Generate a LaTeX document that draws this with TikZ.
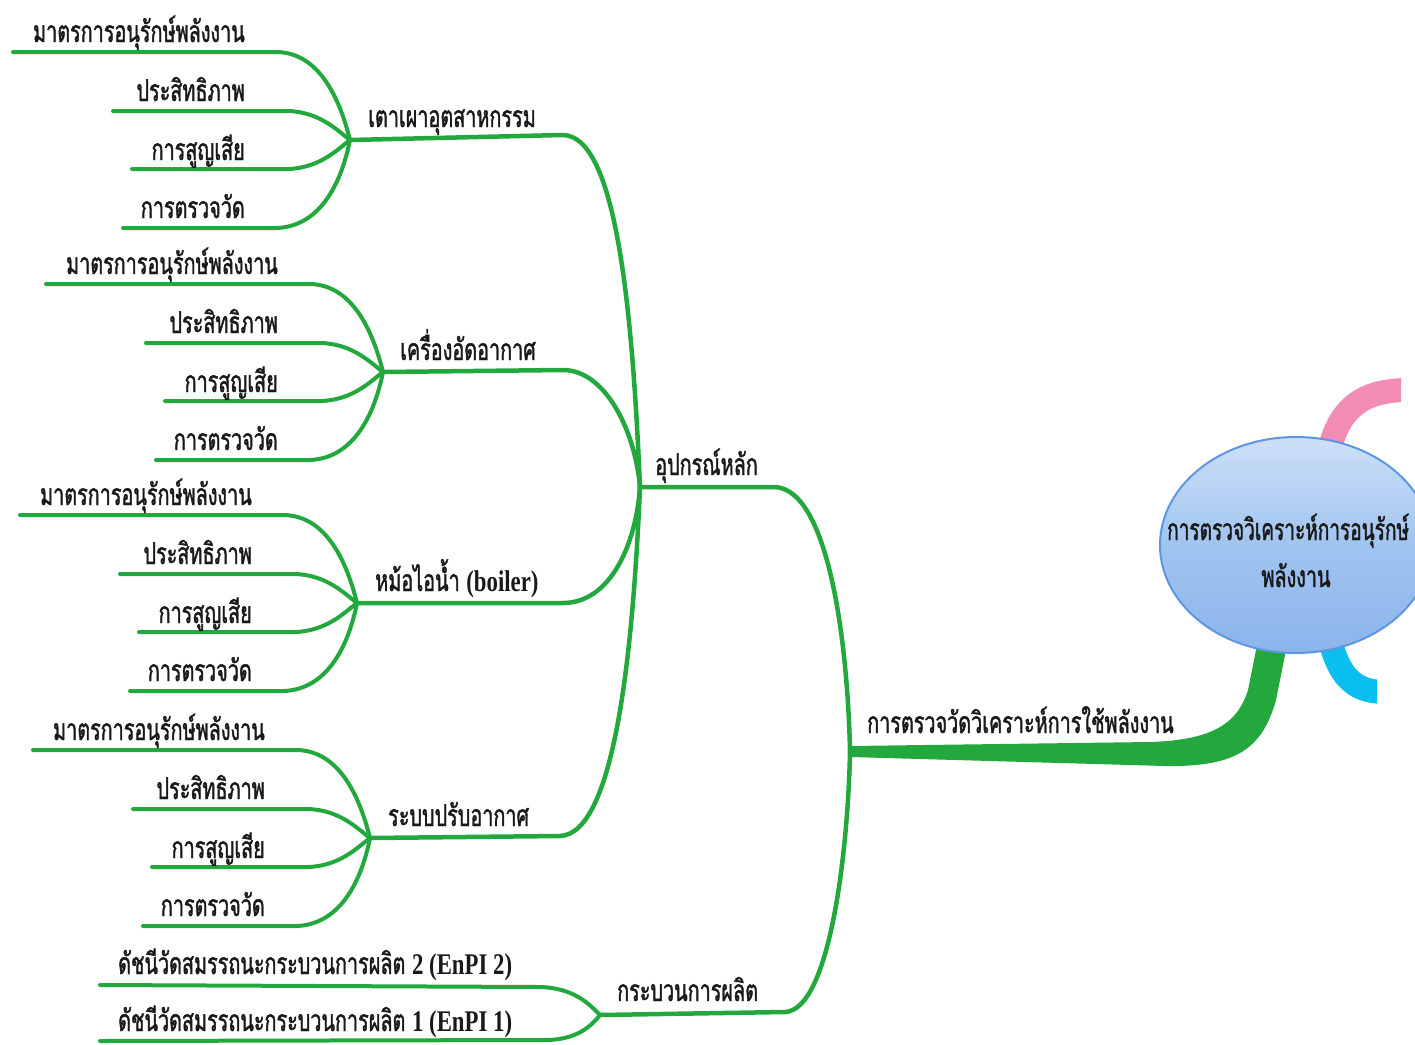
\documentclass[tikz,border=0pt]{standalone}
\usepackage{fontspec}
\usetikzlibrary{shapes.geometric,shadings}
\newfontfamily\thaifont[Script=Thai,FakeStretch=0.66,FakeBold=1.3]{Loma}
\newfontfamily\thainarrow[Script=Thai,FakeStretch=0.635,FakeBold=1.3]{Loma}
\newfontfamily\latfont[FakeStretch=0.76]{Liberation Serif}
\newcommand\lat[1]{{\latfont\bfseries #1}}
\definecolor{mmgreen}{RGB}{34,168,60}
\definecolor{mmpink}{RGB}{242,140,180}
\definecolor{mmcyan}{RGB}{10,190,240}
\definecolor{mmborder}{RGB}{95,150,225}
\definecolor{mmtext}{RGB}{25,25,25}
\definecolor{elltop}{RGB}{205,224,247}
\definecolor{ellmid}{RGB}{160,196,240}
\definecolor{ellbot}{RGB}{140,180,236}
\tikzset{
  leafline/.style={draw=mmgreen,line width=4pt,line cap=round},
  subline/.style={draw=mmgreen,line width=4.5pt,line cap=round},
  lbl/.style={inner sep=0pt,font=\thaifont\fontsize{30}{36}\selectfont,text=mmtext},
}
\begin{document}
\begin{tikzpicture}[x=1pt,y=-1pt]
\useasboundingbox (0,0) rectangle (1415,1044);
\clip (0,0) rectangle (1415,1044);
% ---------- central topic and its coloured branches ----------
\coordinate (mainhub) at (850,752);
\begin{scope}
  \clip (0,0) rectangle (1401,1044);
  \draw[draw=mmpink,line width=24pt] (1326,470) .. controls (1333,410) and (1360,391) .. (1405,390);
\end{scope}
\begin{scope}
  \clip (0,0) rectangle (1377,1044);
  \draw[draw=mmcyan,line width=24pt] (1326,620) .. controls (1335,675) and (1352,692) .. (1385,692);
\end{scope}
\fill[mmgreen] (850,746) -- (1150,742) .. controls (1215,740) and (1238,722) .. (1248,690)
   -- (1262,620) -- (1292,620) -- (1276,700) .. controls (1262,750) and (1235,767) .. (1165,766) -- (850,757) -- cycle;
\node[ellipse,minimum width=272pt,minimum height=216pt,draw=mmborder,line width=2pt,
      top color=elltop,bottom color=ellbot,middle color=ellmid] (root) at (1296,545) {};
\node[lbl,font=\thainarrow\fontsize{30}{36}\selectfont,anchor=base west] (roota) at (1167,540) {การตรวจวิเคราะห์การอนุรักษ์};
\node[lbl,anchor=base] (rootb) at (1296,587) {พลังงาน};
% ---------- main branch ----------
\node[lbl,anchor=base west] (mainlbl) at (867,733) {การตรวจวัดวิเคราะห์การใช้พลังงาน};
\coordinate (eqhub) at (640,487);
\coordinate (prhub) at (600,1015);
\draw[subline] (eqhub) -- (775,487) .. controls (830,490) and (848,650) .. (mainhub);
\draw[subline] (prhub) -- (785,1012) .. controls (830,1010) and (848,850) .. (mainhub);
\node[lbl,anchor=base west] (eqlbl) at (655,475) {อุปกรณ์หลัก};
\node[lbl,anchor=base west] (prlbl) at (617,1001) {กระบวนการผลิต};
% ---------- equipment groups ----------
\coordinate (h1) at (350,140);
\coordinate (h2) at (383,372);
\coordinate (h3) at (357,603);
\coordinate (h4) at (370,838);
\draw[subline] (h1) -- (563,135) .. controls (615,136) and (632,300) .. (eqhub);
\draw[subline] (h2) -- (563,370) .. controls (605,370) and (635,430) .. (eqhub);
\draw[subline] (h3) -- (563,603) .. controls (610,603) and (636,545) .. (eqhub);
\draw[subline] (h4) -- (560,836) .. controls (615,834) and (633,650) .. (eqhub);
\node[lbl,anchor=base west] (g1) at (368,127) {เตาเผาอุตสาหกรรม};
\node[lbl,anchor=base west] (g2) at (400,360) {เครื่องอัดอากาศ};
\node[lbl,anchor=base west] (g3) at (375,591) {หม้อไอน้ำ \lat{(boiler)}};
\node[lbl,anchor=base west] (g4) at (388,826) {ระบบปรับอากาศ};
\foreach \g/\hx/\hy in {1/350/140,2/383/372,3/357/603,4/370/838}{
  \draw[leafline] ({\hx-337},{\hy-88}) -- ({\hx-73},{\hy-88}) .. controls ({\hx-30},{\hy-87}) and ({\hx-10},{\hy-40}) .. (h\g);
  \draw[leafline] ({\hx-237},{\hy-29}) -- ({\hx-62},{\hy-29}) .. controls ({\hx-30},{\hy-28}) and ({\hx-12},{\hy-9}) .. (h\g);
  \draw[leafline] ({\hx-218},{\hy+29}) -- ({\hx-62},{\hy+29}) .. controls ({\hx-30},{\hy+28}) and ({\hx-12},{\hy+9}) .. (h\g);
  \draw[leafline] ({\hx-227},{\hy+88}) -- ({\hx-73},{\hy+88}) .. controls ({\hx-28},{\hy+86}) and ({\hx-8},{\hy+40}) .. (h\g);
  \node[lbl,anchor=base east] (t\g a) at ({\hx-105},{\hy-98}) {มาตรการอนุรักษ์พลังงาน};
  \node[lbl,anchor=base east] (t\g b) at ({\hx-105},{\hy-39}) {ประสิทธิภาพ};
  \node[lbl,anchor=base east] (t\g c) at ({\hx-105},{\hy+20}) {การสูญเสีย};
  \node[lbl,anchor=base east] (t\g d) at ({\hx-105},{\hy+78}) {การตรวจวัด};
}
% ---------- production process ----------
\draw[leafline] (100,985) -- (540,987) .. controls (575,988) and (590,1005) .. (prhub);
\draw[leafline] (100,1041) -- (545,1040) .. controls (578,1040) and (592,1025) .. (prhub);
\node[lbl,anchor=base west] (p2) at (118,974) {ดัชนีวัดสมรรถนะกระบวนการผลิต \lat{2 (EnPI 2)}};
\node[lbl,anchor=base west] (p1) at (118,1031) {ดัชนีวัดสมรรถนะกระบวนการผลิต \lat{1 (EnPI 1)}};
\end{tikzpicture}
\end{document}
